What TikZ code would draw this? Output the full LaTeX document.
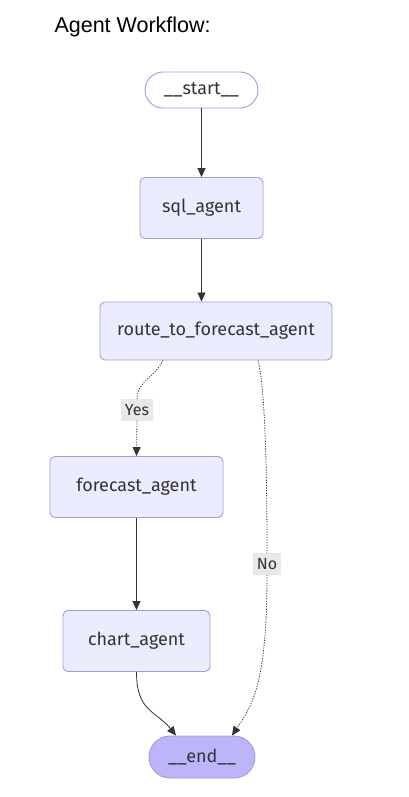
\documentclass[tikz,border=0pt]{standalone}
\usepackage{fontspec}
\setmainfont{Liberation Sans}
\newfontfamily\nodefont{Fira Sans}
\usetikzlibrary{arrows.meta}
\definecolor{nodefill}{HTML}{ECECFF}
\definecolor{nodeline}{HTML}{A898DE}
\definecolor{endfill}{HTML}{BDB5FA}
\definecolor{edgecolor}{HTML}{333333}
\definecolor{lblfill}{HTML}{E8E8E8}

\begin{document}
\begin{tikzpicture}[x=1pt, y=-1pt,
    box/.style={draw=nodeline, fill=nodefill, rounded corners=5pt, line width=0.9pt, minimum height=61pt, align=center, font=\nodefont\fontsize{18}{20}\selectfont, text=edgecolor, inner sep=0pt},
    pill/.style={draw=nodeline, rounded corners=18pt, line width=0.9pt, font=\nodefont\fontsize{18}{20}\selectfont, text=edgecolor, inner sep=0pt},
    lbl/.style={fill=lblfill, font=\nodefont\fontsize{16}{18}\selectfont, text=edgecolor, inner xsep=4pt, inner ysep=5pt},
    arr/.style={-{Triangle[length=9pt, width=8pt]}, line width=0.8pt, color=edgecolor},
    dotarr/.style={arr, dash pattern=on 1.2pt off 1.4pt},
    dotline/.style={line width=0.8pt, color=edgecolor, dash pattern=on 1.2pt off 1.4pt},
]
  \useasboundingbox (0,0) rectangle (409,797);

  % === Title ===
  \node[anchor=west, font=\fontsize{21.5}{24}\selectfont] (title) at (51, 27) {Agent Workflow:};

  % === Nodes ===
  \node[pill, fill=white, minimum width=113pt, minimum height=36pt] (start) at (201.5, 90) {\_\_start\_\_};
  \node[box, minimum width=123pt] (sql) at (201.5, 208) {sql\_agent};
  \node[box, minimum width=232pt, minimum height=58pt] (route) at (216, 331) {route\_to\_forecast\_agent};
  \node[box, minimum width=173pt] (forecast) at (136.5, 487) {forecast\_agent};
  \node[box, minimum width=147pt] (chart) at (136.5, 641) {chart\_agent};
  \node[pill, fill=endfill, minimum width=106pt, minimum height=42pt, rounded corners=21pt] (end) at (202, 757) {\_\_end\_\_};

  % === Edge labels ===
  \node[lbl] (yes) at (137, 410) {Yes};
  \node[lbl] (no) at (267, 564) {No};

  % === Arrows ===
  \draw[arr] (start.south) -- (sql.north);
  \draw[arr] (sql.south) -- (sql.south |- route.north);
  \draw[dotline] ([xshift=-53pt]route.south) to[out=-115, in=90] (yes.north);
  \draw[dotarr] (yes.south) -- (forecast.north);
  \draw[dotline] ([xshift=42pt]route.south) .. controls +(8,30) and +(0,-60) .. (no.north);
  \draw[dotarr] (no.south) .. controls +(0,110) and +(20,-30) .. ([xshift=30pt]end.north);
  \draw[arr] (forecast.south) -- (chart.north);
  \draw[arr] (chart.south) .. controls +(0,40) and +(-20,-25) .. ([xshift=-26pt]end.north);
\end{tikzpicture}
\end{document}
